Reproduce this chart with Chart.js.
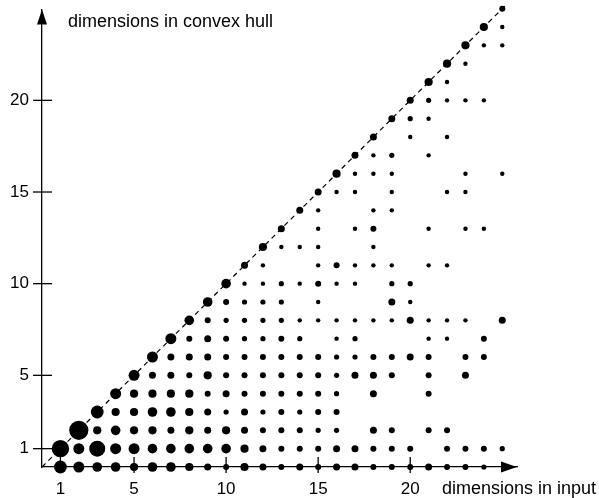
<!DOCTYPE html>
<html>
<head>
<meta charset="utf-8">
<script src="https://cdn.jsdelivr.net/npm/chart.js@4.4.1/dist/chart.umd.min.js"></script>
<style>
  html, body { margin: 0; padding: 0; background: #fff; }
  canvas { display: block; }
</style>
</head>
<body>
<canvas id="chart" width="599" height="498"></canvas>
<script>
// dot size level per grid cell, one row per "dimensions in convex hull" value (0..25),
// each row indexed by "dimensions in input" 1..25 (0 = no dot)
const dotRows = [
  [8,7,6,6,5,6,6,5,4,3,5,4,3,4,3,4,4,3,3,3,4,3,3,2,0],
  [11,7,10,7,7,6,6,6,6,6,5,4,3,3,3,4,4,3,3,3,0,3,3,3,2],
  [0,12,5,6,5,5,4,5,4,5,4,3,3,3,2,2,0,4,3,0,3,3,0,0,0],
  [0,0,8,5,5,6,6,5,4,2,4,2,3,2,3,3,0,0,0,0,0,0,0,0,0],
  [0,0,0,7,5,5,5,5,3,4,3,3,3,3,3,2,0,4,0,0,3,0,0,0,0],
  [0,0,0,0,7,4,4,3,5,3,3,3,3,3,3,2,4,4,3,0,3,0,4,0,0],
  [0,0,0,0,0,7,4,4,4,3,3,3,3,3,3,2,2,3,3,4,3,0,3,3,0],
  [0,0,0,0,0,0,7,3,4,3,2,2,3,2,0,1,2,0,0,0,1,1,0,3,0],
  [0,0,0,0,0,0,0,6,3,2,2,2,2,1,1,1,1,1,1,4,1,1,1,0,4],
  [0,0,0,0,0,0,0,0,6,3,2,2,2,0,1,0,0,0,4,1,0,0,0,0,0],
  [0,0,0,0,0,0,0,0,0,6,1,1,2,1,3,1,1,0,2,2,0,0,0,0,0],
  [0,0,0,0,0,0,0,0,0,0,4,1,0,0,1,3,1,1,1,0,1,1,0,0,0],
  [0,0,0,0,0,0,0,0,0,0,0,5,1,1,1,0,0,1,0,0,0,0,0,0,0],
  [0,0,0,0,0,0,0,0,0,0,0,0,4,0,1,0,1,3,0,0,1,0,1,1,0],
  [0,0,0,0,0,0,0,0,0,0,0,0,0,4,1,0,0,1,1,0,0,0,0,0,0],
  [0,0,0,0,0,0,0,0,0,0,0,0,0,0,4,1,1,0,1,0,0,1,1,0,0],
  [0,0,0,0,0,0,0,0,0,0,0,0,0,0,0,5,1,1,1,0,0,0,1,0,1],
  [0,0,0,0,0,0,0,0,0,0,0,0,0,0,0,0,4,1,2,0,1,0,0,0,0],
  [0,0,0,0,0,0,0,0,0,0,0,0,0,0,0,0,0,4,0,1,0,1,0,0,0],
  [0,0,0,0,0,0,0,0,0,0,0,0,0,0,0,0,0,0,4,2,1,0,0,0,0],
  [0,0,0,0,0,0,0,0,0,0,0,0,0,0,0,0,0,0,0,4,2,1,1,1,0],
  [0,0,0,0,0,0,0,0,0,0,0,0,0,0,0,0,0,0,0,0,5,1,0,0,0],
  [0,0,0,0,0,0,0,0,0,0,0,0,0,0,0,0,0,0,0,0,0,5,1,0,0],
  [0,0,0,0,0,0,0,0,0,0,0,0,0,0,0,0,0,0,0,0,0,0,5,1,1],
  [0,0,0,0,0,0,0,0,0,0,0,0,0,0,0,0,0,0,0,0,0,0,0,5,1],
  [0,0,0,0,0,0,0,0,0,0,0,0,0,0,0,0,0,0,0,0,0,0,0,0,3]
];
const xTicks = [1, 5, 10, 15, 20];
const yTicks = [1, 5, 10, 15, 20];
const xTitle = 'dimensions in input';
const yTitle = 'dimensions in convex hull';

// radius in px for each size level
const levelRadius = [0, 2.2, 2.6, 3.0, 3.5, 4.1, 4.8, 5.5, 6.4, 7.2, 8.0, 8.7, 9.6];

let points = [];
dotRows.forEach((row, y) => {
    row.forEach((lvl, i) => {
        if (lvl > 0) points.push({ x: i + 1, y: y, lvl: lvl });
    });
});

const FONT = '"Liberation Sans", Arial, Helvetica, sans-serif';

const axesPlugin = {
    id: 'arrowAxes',
    beforeDatasetsDraw(chart) {
        const ctx = chart.ctx;
        const area = chart.chartArea;
        const xs = chart.scales.x;
        const ys = chart.scales.y;
        ctx.save();
        ctx.strokeStyle = '#000';
        ctx.fillStyle = '#000';
        ctx.lineWidth = 1.3;
        // ticks crossing the axes
        yTicks.forEach(v => {
            const py = ys.getPixelForValue(v);
            ctx.beginPath();
            ctx.moveTo(area.left - 9, py);
            ctx.lineTo(area.left + 10, py);
            ctx.stroke();
        });
        xTicks.forEach(v => {
            const px = xs.getPixelForValue(v);
            ctx.beginPath();
            ctx.moveTo(px, area.bottom - 10);
            ctx.lineTo(px, area.bottom + 6);
            ctx.stroke();
        });
        // arrow heads
        ctx.beginPath();
        ctx.moveTo(area.left, area.top);
        ctx.lineTo(area.left - 5, area.top + 15);
        ctx.lineTo(area.left + 5, area.top + 15);
        ctx.closePath();
        ctx.fill();
        ctx.beginPath();
        ctx.moveTo(area.right, area.bottom);
        ctx.lineTo(area.right - 16, area.bottom - 5.5);
        ctx.lineTo(area.right - 16, area.bottom + 5.5);
        ctx.closePath();
        ctx.fill();
        ctx.restore();
    },
    afterDraw(chart) {
        const ctx = chart.ctx;
        ctx.save();
        ctx.fillStyle = '#000';
        ctx.font = '18px ' + FONT;
        ctx.textBaseline = 'alphabetic';
        ctx.textAlign = 'left';
        ctx.fillText(yTitle, 68, 27);
        ctx.fillText(xTitle, 442, 494);
        ctx.restore();
    }
};

const chart = new Chart(document.getElementById('chart'), {
    type: 'bubble',
    data: {
        datasets: [
            {
                type: 'bubble',
                data: points,
                backgroundColor: '#000',
                borderWidth: 0,
                radius: (c) => c.raw ? levelRadius[c.raw.lvl] : 0,
                clip: false,
                order: 1
            },
            {
                type: 'line',
                data: [{ x: 0, y: 0 }, { x: 25.2, y: 25.2 }],
                borderColor: '#000',
                borderWidth: 1.2,
                borderDash: [5, 4],
                pointRadius: 0,
                fill: false,
                clip: false,
                order: 2
            }
        ]
    },
    options: {
        responsive: false,
        animation: false,
        events: [],
        layout: { padding: { top: 8, right: 82, left: 0, bottom: 0 } },
        plugins: { legend: { display: false }, tooltip: { enabled: false } },
        scales: {
            x: {
                type: 'linear',
                min: 0,
                max: 25.8,
                afterBuildTicks: (s) => { s.ticks = xTicks.map(v => ({ value: v })); },
                afterFit: (s) => { s.height = 31; s.paddingLeft = 0; s.paddingRight = 0; },
                grid: { display: false, drawTicks: false },
                border: { display: true, color: '#000', width: 1.3 },
                ticks: {
                    autoSkip: false,
                    maxRotation: 0,
                    padding: 12,
                    color: '#000',
                    font: { family: FONT, size: 17 }
                }
            },
            y: {
                type: 'linear',
                min: 0,
                max: 24.95,
                afterBuildTicks: (s) => { s.ticks = yTicks.map(v => ({ value: v })); },
                afterFit: (s) => { s.width = 42; s.paddingTop = 0; s.paddingBottom = 0; },
                grid: { display: false, drawTicks: false },
                border: { display: true, color: '#000', width: 1.3 },
                ticks: {
                    padding: 13,
                    color: '#000',
                    font: { family: FONT, size: 17 }
                }
            }
        }
    },
    plugins: [axesPlugin]
});
</script>
</body>
</html>
